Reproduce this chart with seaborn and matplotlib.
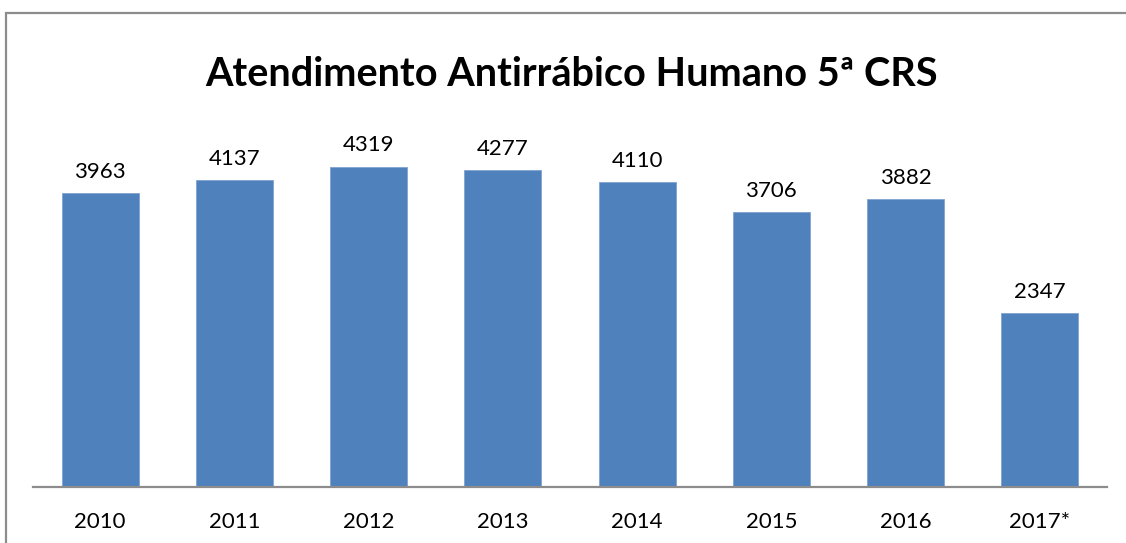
import matplotlib
matplotlib.use("Agg")
import matplotlib.pyplot as plt
import seaborn as sns
import pandas as pd
from matplotlib.patches import Rectangle

anos = ["2010", "2011", "2012", "2013", "2014", "2015", "2016", "2017*"]
atendimentos = [3963, 4137, 4319, 4277, 4110, 3706, 3882, 2347]

titulo = "Atendimento Antirrábico Humano 5ª CRS"
cor_barra = "#4F81BD"

sns.set_theme(style="white")
plt.rcParams["font.family"] = ["Lato", "DejaVu Sans"]

df = pd.DataFrame({"ano": anos, "total": atendimentos})

W, H = 1126, 543
fig = plt.figure(figsize=(W / 100, H / 100), dpi=100)
fig.patch.set_facecolor("white")

# moldura do gráfico (sai pela direita e por baixo)
fig.patches.append(Rectangle((6 / W, -0.05), 1.2, (H - 13) / H + 0.05,
                             transform=fig.transFigure, fill=False,
                             edgecolor="#8C8C8C", linewidth=1.6))

ax = fig.add_axes([33 / W, (H - 487) / H, 1074 / W, 371 / H])
sns.barplot(data=df, x="ano", y="total", color=cor_barra, width=0.575,
            saturation=1, ax=ax)
for p in ax.patches:
    p.set_edgecolor("#7FA3CF")
    p.set_linewidth(0.6)

ax.set_ylim(0, 5000)
ax.set_xlim(-0.5, len(anos) - 0.5)
for c in ax.containers:
    ax.bar_label(c, labels=[str(v) for v in atendimentos], padding=8,
                 fontsize=16, color="black")

ax.set_xlabel("")
ax.set_ylabel("")
ax.set_yticks([])
ax.tick_params(axis="x", length=0, pad=18, labelsize=16, labelcolor="black")
for s in ["top", "right", "left"]:
    ax.spines[s].set_visible(False)
ax.spines["bottom"].set_color("#8C8C8C")
ax.spines["bottom"].set_linewidth(1.6)
ax.set_facecolor("none")

fig.text(572 / W, 1 - 74 / H, titulo, ha="center", va="center",
         fontsize=28.5, fontweight="bold", color="black")

fig.savefig("out.png", dpi=100)
